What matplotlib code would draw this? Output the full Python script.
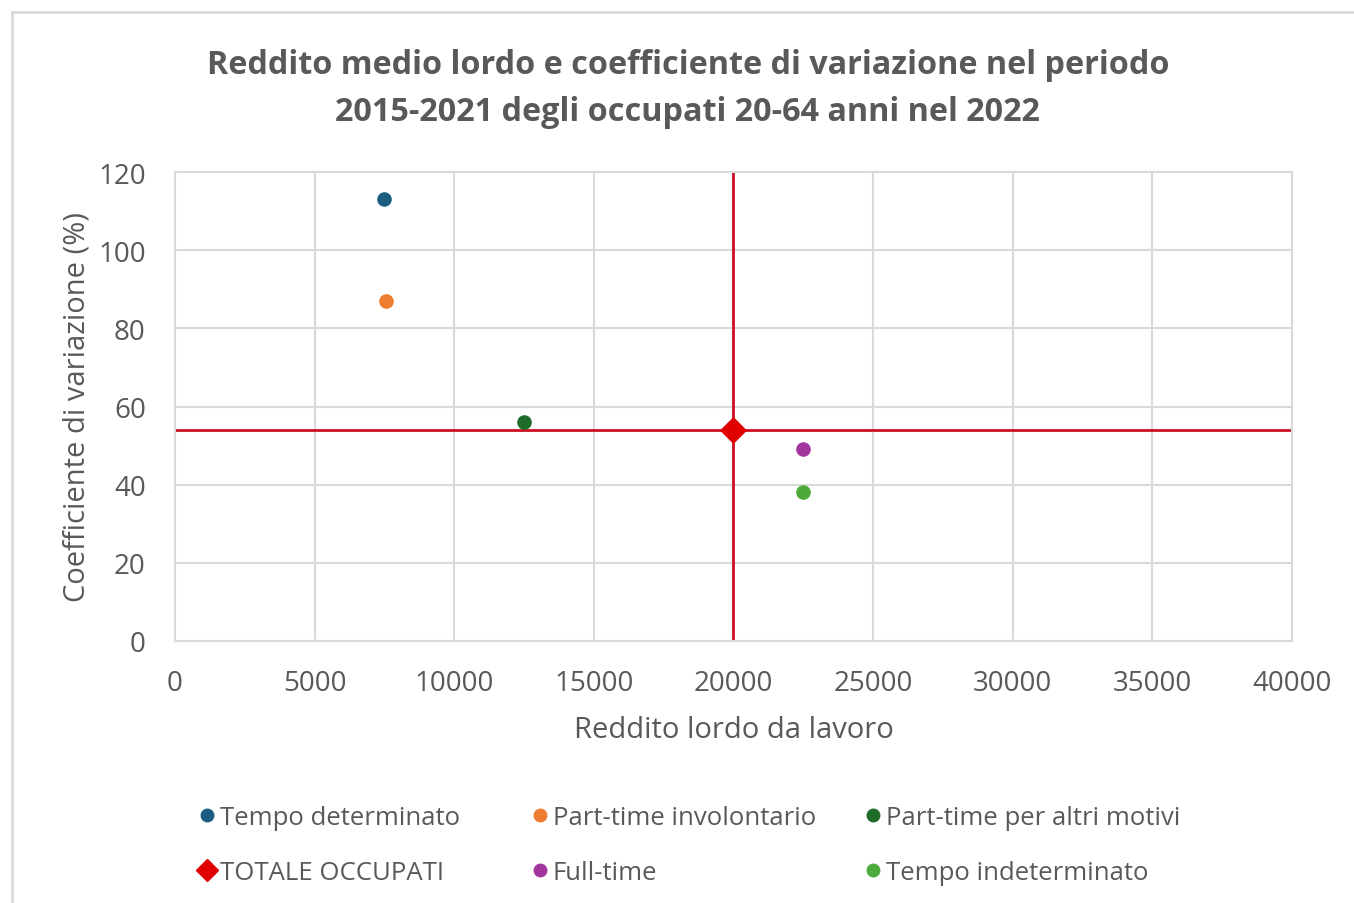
import matplotlib
matplotlib.use("Agg")
import matplotlib.pyplot as plt
from matplotlib.lines import Line2D
from matplotlib.patches import Rectangle

plt.rcParams['font.family'] = ['Open Sans', 'DejaVu Sans']

# dati
categorie = ["Tempo determinato", "Part-time involontario", "Part-time per altri motivi",
             "TOTALE OCCUPATI", "Full-time", "Tempo indeterminato"]
reddito = [7500, 7550, 12500, 20000, 22500, 22500]
coeff_var = [113, 87, 56, 54, 49, 38]
colori = ["#1B5E82", "#ED7D31", "#1E6B2A", "#E00000", "#A2359E", "#4DAA3A"]
marker = ["o", "o", "o", "D", "o", "o"]

x_ticks = [0, 5000, 10000, 15000, 20000, 25000, 30000, 35000, 40000]
y_ticks = [0, 20, 40, 60, 80, 100, 120]

fig = plt.figure(figsize=(13.54, 9.04), dpi=100)
fig.patches.append(Rectangle((12 / 1354, -0.1), 1.2, 1 - 13 / 904 + 0.1,
                             transform=fig.transFigure, fill=False,
                             edgecolor="#D9D9D9", linewidth=2))

ax = fig.add_axes([175 / 1354, 1 - 642 / 904, 1117 / 1354, 469 / 904])

# linee di riferimento sul totale
ax.axvline(reddito[3], color="#CC1020", linewidth=2, zorder=2)
ax.axhline(coeff_var[3], color="#CC1020", linewidth=2, zorder=2)

handles = []
for i, nome in enumerate(categorie):
    s = 190 if marker[i] == "D" else 110
    ax.scatter(reddito[i], coeff_var[i], s=s, c=colori[i], marker=marker[i],
               zorder=3, linewidths=0)
    handles.append(Line2D([], [], linestyle="none", marker=marker[i],
                          color=colori[i], markersize=11 if marker[i] == "D" else 9,
                          label=nome))

ax.set_xlim(0, 40000)
ax.set_ylim(0, 120)
ax.set_xticks(x_ticks)
ax.set_yticks(y_ticks)
ax.grid(True, color="#D9D9D9", linewidth=1.5, zorder=0)
ax.set_axisbelow(True)
for sp in ax.spines.values():
    sp.set_color("#D9D9D9")
    sp.set_linewidth(1.5)
ax.tick_params(length=0, labelsize=20, labelcolor="#595959")
ax.tick_params(axis="x", pad=20)
ax.tick_params(axis="y", pad=21)

ax.set_xlabel("Reddito lordo da lavoro", fontsize=21, color="#595959", labelpad=13)
ax.set_ylabel("Coefficiente di variazione (%)", fontsize=21, color="#595959", labelpad=5)

fig.text(0.508, 1 - 89 / 904,
         "Reddito medio lordo e coefficiente di variazione nel periodo\n"
         "2015-2021 degli occupati 20-64 anni nel 2022",
         ha="center", va="center", fontsize=23.3, fontweight="bold",
         color="#595959", linespacing=1.55)

# legenda: 3 colonne di larghezza uguale, 2 righe
colonne = [[0, 3], [1, 4], [2, 5]]
x_col = [171, 504, 837]
for j, idx in enumerate(colonne):
    leg = fig.legend([handles[i] for i in idx], [categorie[i] for i in idx],
                     loc="center left", bbox_to_anchor=(x_col[j] / 1354, 1 - 846 / 904),
                     frameon=False, fontsize=18.5, handletextpad=0.0, handlelength=1.0,
                     labelspacing=1.15, labelcolor="#595959")

fig.savefig("out.png", dpi=100, facecolor="white")
